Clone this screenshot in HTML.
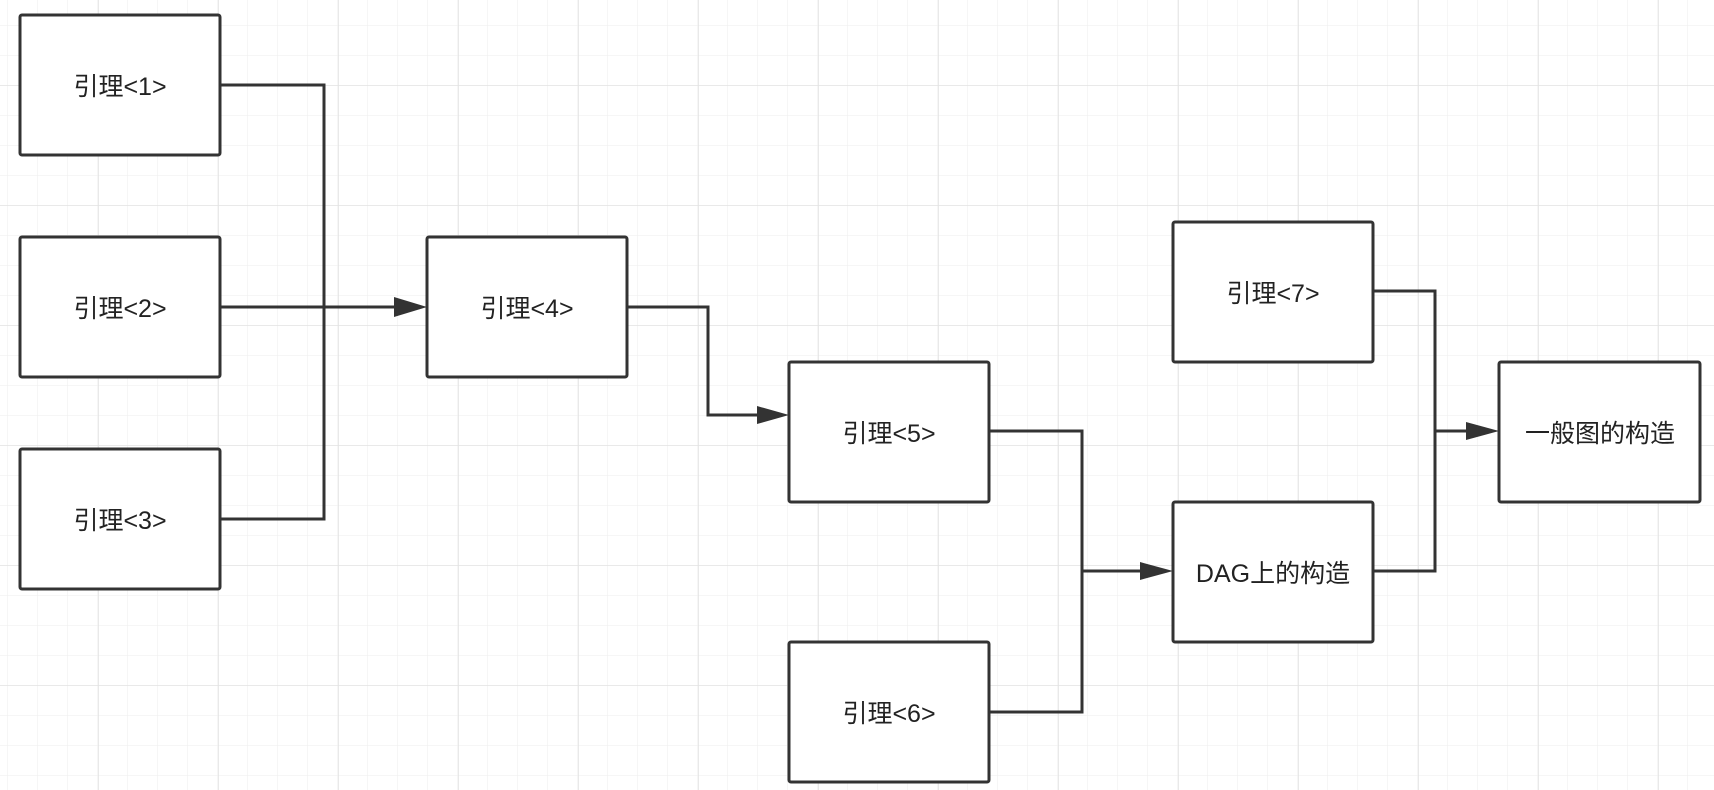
<!DOCTYPE html>
<html><head><meta charset="utf-8"><style>
html,body{margin:0;padding:0;background:#fff;}
svg{display:block;}
text{font-family:"Liberation Sans","Noto Sans CJK SC",sans-serif;font-size:25px;fill:#222;}
</style></head><body>
<svg width="1714" height="790" viewBox="0 0 1714 790" xmlns="http://www.w3.org/2000/svg">
<defs>
<pattern id="minor" x="7" y="25" width="30" height="30" patternUnits="userSpaceOnUse">
<path d="M0 0V30M0 0H30" stroke="#ededed" stroke-width="1" fill="none"/>
</pattern>
<pattern id="major" x="98" y="85" width="120" height="120" patternUnits="userSpaceOnUse">
<path d="M0 0V120M0 0H120" stroke="#e2e2e2" stroke-width="1.5" fill="none"/>
</pattern>
</defs>
<rect width="1714" height="790" fill="#fff"/>
<rect width="1714" height="790" fill="url(#minor)"/>
<rect width="1714" height="790" fill="url(#major)"/>
<g fill="none" stroke="#333" stroke-width="3">
<path d="M220 85H324V519H220"/>
<path d="M220 307H394"/>
<path d="M627 307H708V415H757"/>
<path d="M989 431H1082V712H989"/>
<path d="M1082 571H1140"/>
<path d="M1373 291H1435V571H1373"/>
<path d="M1435 431H1466"/>
</g>
<g fill="#333">
<polygon points="394,297 427,307 394,317"/>
<polygon points="757,406 789,415 757,424"/>
<polygon points="1140,562 1173,571 1140,580"/>
<polygon points="1466,422 1499,431 1466,440"/>
</g>
<g fill="#fff" stroke="#333" stroke-width="3">
<rect x="20" y="15" width="200" height="140" rx="2"/>
<rect x="20" y="237" width="200" height="140" rx="2"/>
<rect x="20" y="449" width="200" height="140" rx="2"/>
<rect x="427" y="237" width="200" height="140" rx="2"/>
<rect x="789" y="362" width="200" height="140" rx="2"/>
<rect x="789" y="642" width="200" height="140" rx="2"/>
<rect x="1173" y="502" width="200" height="140" rx="2"/>
<rect x="1173" y="222" width="200" height="140" rx="2"/>
<rect x="1499" y="362" width="201" height="140" rx="2"/>
</g>
<g text-anchor="middle">
<text x="120" y="95">引理&lt;1&gt;</text>
<text x="120" y="317">引理&lt;2&gt;</text>
<text x="120" y="529">引理&lt;3&gt;</text>
<text x="527" y="317">引理&lt;4&gt;</text>
<text x="889" y="442">引理&lt;5&gt;</text>
<text x="889" y="722">引理&lt;6&gt;</text>
<text x="1273" y="582">DAG上的构造</text>
<text x="1273" y="302">引理&lt;7&gt;</text>
<text x="1600" y="442">一般图的构造</text>
</g>
</svg>
</body></html>
